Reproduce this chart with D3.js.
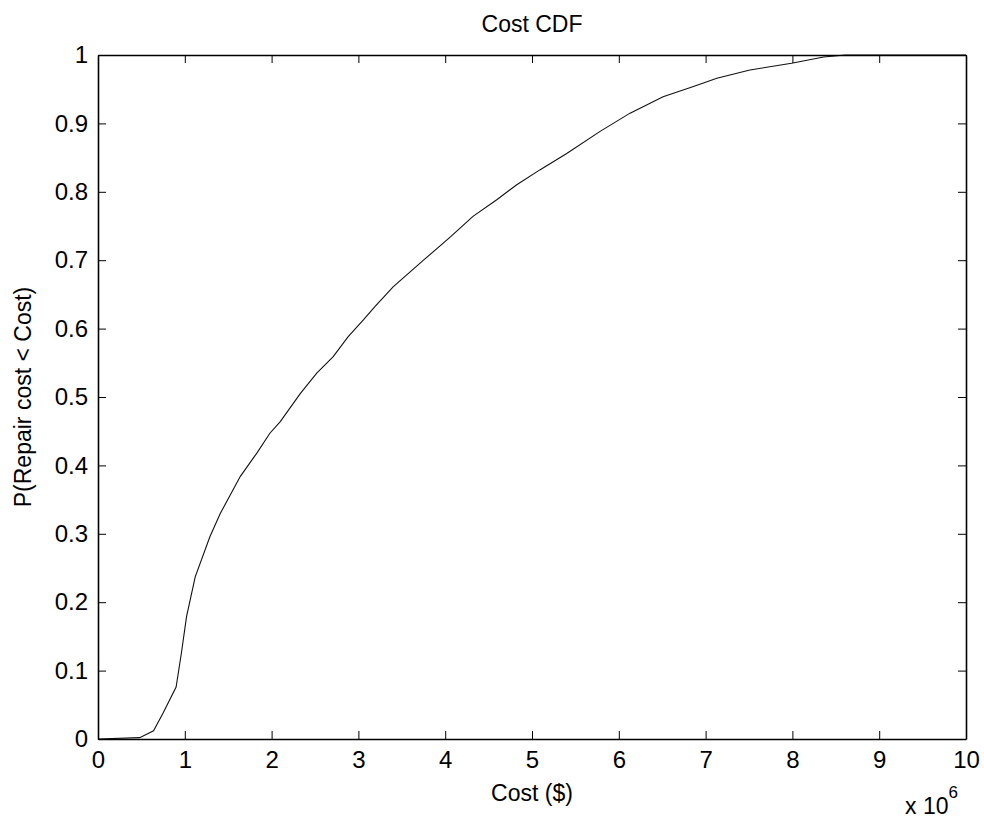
<!DOCTYPE html>
<html>
<head>
<meta charset="utf-8">
<script src="https://cdn.jsdelivr.net/npm/d3@7"></script>
<style>
  html, body { margin: 0; padding: 0; background: #fff; }
  svg { display: block; }
  text { font-family: Arial, "Liberation Sans", Helvetica, sans-serif; fill: #000; }
</style>
</head>
<body>
<svg id="chart" width="984" height="819"></svg>
<script>
// Empirical CDF of repair cost (cost in millions of dollars)
const costMillions = [0, 0.48, 0.64, 0.75, 0.90, 0.96, 1.02, 1.12, 1.29, 1.41, 1.64, 1.83, 1.98,
  2.10, 2.33, 2.52, 2.71, 2.88, 3.06, 3.19, 3.40, 3.75, 4.06, 4.32, 4.59, 4.82, 5.09, 5.40,
  5.78, 6.13, 6.51, 6.86, 7.13, 7.51, 7.99, 8.36, 8.61, 10];
const probability = [0, 0.002, 0.012, 0.038, 0.076, 0.125, 0.179, 0.237, 0.296, 0.330, 0.384, 0.418, 0.447,
  0.464, 0.505, 0.535, 0.559, 0.588, 0.613, 0.632, 0.661, 0.700, 0.734, 0.764, 0.788, 0.810, 0.832, 0.856,
  0.888, 0.915, 0.939, 0.954, 0.966, 0.978, 0.988, 0.997, 1.0, 1.0];
const xTicks = [0, 1, 2, 3, 4, 5, 6, 7, 8, 9, 10];
const yTicks = [0, 0.1, 0.2, 0.3, 0.4, 0.5, 0.6, 0.7, 0.8, 0.9, 1];

const svg = d3.select("#chart");
const m = { left: 98, right: 966, top: 55, bottom: 739 };

const x = d3.scaleLinear().domain([0, 10]).range([m.left, m.right]);
const y = d3.scaleLinear().domain([0, 1]).range([m.bottom, m.top]);

const tickLen = 8;
const fmt = d => String(d);

// Curve
const points = costMillions.map((c, i) => [c, probability[i]]);
svg.append("path")
  .datum(points)
  .attr("fill", "none")
  .attr("stroke", "#111")
  .attr("stroke-width", 1.1)
  .attr("d", d3.line().x(d => x(d[0])).y(d => y(d[1])));

// Axes: bottom/left with labels, top/right as box with inward ticks
const axisStyle = g => {
  g.select(".domain").attr("stroke", "#000").attr("stroke-width", 1.6);
  g.selectAll(".tick line").attr("stroke", "#000").attr("stroke-width", 1);
  g.selectAll(".tick text").attr("font-size", 24).attr("font-family", "Arial, 'Liberation Sans', sans-serif").attr("fill", "#000");
};

svg.append("g")
  .attr("transform", `translate(0,${m.bottom})`)
  .call(d3.axisBottom(x).tickValues(xTicks).tickFormat(fmt).tickSizeInner(-tickLen).tickSizeOuter(0).tickPadding(12))
  .call(axisStyle);

svg.append("g")
  .attr("transform", `translate(${m.left},0)`)
  .call(d3.axisLeft(y).tickValues(yTicks).tickFormat(fmt).tickSizeInner(-tickLen).tickSizeOuter(0).tickPadding(10))
  .call(axisStyle);

svg.append("g")
  .attr("transform", `translate(0,${m.top})`)
  .call(d3.axisTop(x).tickValues(xTicks).tickFormat("").tickSizeInner(-tickLen).tickSizeOuter(0))
  .call(axisStyle);

svg.append("g")
  .attr("transform", `translate(${m.right},0)`)
  .call(d3.axisRight(y).tickValues(yTicks).tickFormat("").tickSizeInner(-tickLen).tickSizeOuter(0))
  .call(axisStyle);

// Title and axis labels
svg.append("text")
  .attr("x", (m.left + m.right) / 2).attr("y", 32)
  .attr("text-anchor", "middle").attr("font-size", 23)
  .text("Cost CDF");

svg.append("text")
  .attr("x", (m.left + m.right) / 2).attr("y", 801)
  .attr("text-anchor", "middle").attr("font-size", 23)
  .text("Cost ($)");

svg.append("text")
  .attr("transform", `translate(31,${(m.top + m.bottom) / 2}) rotate(-90)`)
  .attr("text-anchor", "middle").attr("font-size", 23)
  .text("P(Repair cost < Cost)");

// Exponent note for the x axis
const expo = svg.append("text")
  .attr("x", 905).attr("y", 814)
  .attr("font-size", 23);
expo.append("tspan").text("x 10");
expo.append("tspan").attr("dy", -16).attr("font-size", 17).text("6");
</script>
</body>
</html>
